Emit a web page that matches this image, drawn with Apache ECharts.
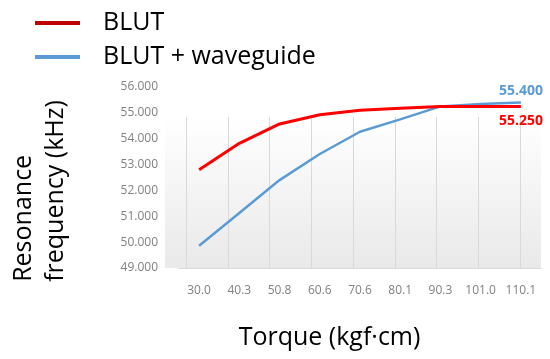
<!DOCTYPE html>
<html>
<head>
<meta charset="utf-8">
<style>html,body{margin:0;padding:0;background:#fff;}#c{width:550px;height:359px;}</style>
<script src="https://cdn.jsdelivr.net/npm/echarts@6/dist/echarts.min.js"></script>
</head>
<body>
<div id="c"></div>
<script>
const categories = ['30.0', '40.3', '50.8', '60.6', '70.6', '80.1', '90.3', '101.0', '110.1'];
const blut = [52.80, 53.82, 54.57, 54.93, 55.10, 55.18, 55.25, 55.25, 55.25];
const blutWaveguide = [49.86, 51.13, 52.40, 53.41, 54.27, 54.75, 55.25, 55.34, 55.40];
const seriesNames = ['BLUT', 'BLUT + waveguide'];
const yMin = 49, yMax = 56, yStep = 1;

const FONT = 'Open Sans';
function withLastLabel(arr, pos, dist) {
  return arr.map((v, i) => i === arr.length - 1
    ? { value: v, label: { show: true, position: pos, distance: dist } }
    : v);
}

const chart = echarts.init(document.getElementById('c'), null, { renderer: 'canvas' });
chart.setOption({
  animation: false,
  backgroundColor: '#ffffff',
  legend: {
    orient: 'vertical',
    left: 30,
    top: 3,
    icon: 'rect',
    itemWidth: 45,
    itemHeight: 4,
    itemGap: 4,
    textStyle: { fontFamily: FONT, fontSize: 25, color: '#000', lineHeight: 30, padding: [0, 0, 0, 18] },
    data: [
      { name: seriesNames[0], itemStyle: { color: '#c00000' } },
      { name: seriesNames[1], itemStyle: { color: '#5b9bd5' } }
    ]
  },
  grid: [
    { left: 165, right: 9, top: 87, bottom: 91 },
    { left: 165, right: 9, top: 117, bottom: 91, show: true, borderWidth: 0,
      backgroundColor: new echarts.graphic.LinearGradient(0, 0, 0, 1, [
        { offset: 0, color: '#ffffff' }, { offset: 1, color: '#e9e9e9' }]) },
    { left: 186, right: 30, top: 117, bottom: 91 }
  ],
  xAxis: [
    {
      gridIndex: 0, type: 'category', data: categories, boundaryGap: true,
      axisLine: { show: true, lineStyle: { color: '#d9d9d9', width: 1 } },
      axisTick: { show: false },
      splitLine: { show: false },
      axisLabel: { color: '#808080', fontFamily: FONT, fontSize: 12, margin: 17 },
      name: 'Torque (kgf·cm)',
      nameLocation: 'middle',
      nameGap: 57,
      nameTextStyle: { fontFamily: FONT, fontSize: 25, color: '#000', padding: [0, 61, 0, 0] }
    },
    { gridIndex: 1, type: 'category', data: categories, show: false },
    {
      gridIndex: 2, type: 'category', data: categories, boundaryGap: false,
      axisLine: { show: false }, axisTick: { show: false }, axisLabel: { show: false },
      splitLine: { show: true, lineStyle: { color: '#d9d9d9', width: 1 } }
    }
  ],
  yAxis: [
    {
      gridIndex: 0, type: 'value', min: yMin, max: yMax, interval: yStep,
      axisLine: { show: false }, axisTick: { show: false }, splitLine: { show: false },
      axisLabel: { color: '#808080', fontFamily: FONT, fontSize: 12, margin: 21,
        formatter: v => v.toFixed(3) },
      name: '{a|Resonance}\n{a|frequency (kHz)}',
      nameLocation: 'middle',
      nameRotate: 90,
      nameGap: 107,
      nameTextStyle: {
        fontFamily: FONT, fontSize: 25, color: '#000', lineHeight: 32,
        padding: [0, 27, 0, 0],
        rich: { a: { align: 'left', fontFamily: FONT, fontSize: 25, color: '#000', lineHeight: 32 } }
      }
    },
    { gridIndex: 1, type: 'value', show: false, min: 0, max: 1, splitLine: { show: false } },
    { gridIndex: 2, type: 'value', show: false, min: 0, max: 1, splitLine: { show: false } }
  ],
  series: [
    {
      name: seriesNames[0], type: 'line', xAxisIndex: 0, yAxisIndex: 0,
      data: withLastLabel(blut, 'bottom', 8),
      showSymbol: true, symbol: 'circle', symbolSize: 0, smooth: false, z: 3,
      lineStyle: { color: '#ff0000', width: 3 },
      itemStyle: { color: '#ff0000' },
      label: { show: false, color: '#ff0000', fontFamily: FONT, fontSize: 14, fontWeight: 'bold',
        formatter: p => Number(p.value).toFixed(3) }
    },
    {
      name: seriesNames[1], type: 'line', xAxisIndex: 0, yAxisIndex: 0,
      data: withLastLabel(blutWaveguide, 'top', 4),
      showSymbol: true, symbol: 'circle', symbolSize: 0, smooth: false, z: 2,
      lineStyle: { color: '#5b9bd5', width: 2.5 },
      itemStyle: { color: '#5b9bd5' },
      label: { show: false, color: '#5b9bd5', fontFamily: FONT, fontSize: 14, fontWeight: 'bold',
        formatter: p => Number(p.value).toFixed(3) }
    }
  ]
});
</script>
</body>
</html>
